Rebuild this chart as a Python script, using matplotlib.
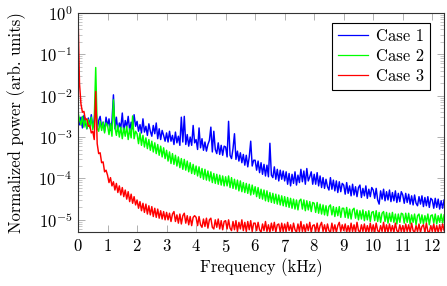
import numpy as np
import matplotlib
matplotlib.use("Agg")
import matplotlib.pyplot as plt
from matplotlib.ticker import LogLocator, NullFormatter, FixedLocator

plt.rcParams['font.family'] = ['cmr10', 'DejaVu Serif']
plt.rcParams['mathtext.fontset'] = 'cm'
plt.rcParams['axes.formatter.use_mathtext'] = True

# frequency grid (kHz), 0.05 kHz spacing
freq = np.linspace(0.0, 12.4, 249)

# log10 of normalized power
case1_log = [
    -2.45, -2.70, -2.52, -2.78, -2.48, -2.66, -2.80, -2.54, -2.72, -2.46, -2.76, -2.58, -2.22, -2.82, -2.60, -2.50, -2.78, -2.64, -2.86, -2.52,
    -2.74, -2.56, -2.84, -2.62, -1.98, -2.80, -2.52, -2.86, -2.66, -2.78, -2.42, -2.88, -2.60, -2.76, -2.50, -2.84, -2.64, -2.80, -2.46, -2.74,
    -2.62, -2.86, -2.70, -2.90, -2.56, -2.88, -2.74, -2.96, -2.68, -2.86, -2.98, -2.72, -2.92, -2.66, -3.04, -2.80, -3.06, -2.84, -2.96, -3.10,
    -2.90, -3.12, -2.86, -3.10, -2.96, -3.18, -2.88, -3.14, -2.98, -3.20, -2.52, -3.12, -2.50, -3.18, -2.94, -3.22, -3.00, -3.20, -2.72, -3.14,
    -3.06, -3.30, -2.78, -3.26, -3.04, -3.32, -3.12, -3.34, -3.18, -3.08, -2.76, -3.36, -2.86, -3.30, -3.40, -3.14, -3.42, -3.20, -3.44, -3.22,
    -3.24, -3.48, -2.62, -3.44, -3.52, -3.28, -2.92, -3.54, -3.34, -3.58, -3.38, -3.62, -3.42, -3.68, -3.44, -3.72, -3.48, -3.10, -3.70, -3.56,
    -3.56, -3.80, -3.58, -3.86, -3.62, -3.90, -3.66, -3.94, -3.68, -3.96, -3.15, -3.92, -3.98, -3.72, -4.02, -3.78, -4.06, -3.80, -4.02, -3.82,
    -4.06, -3.84, -4.14, -3.88, -4.18, -3.90, -4.12, -3.84, -4.16, -3.92, -4.10, -3.78, -4.08, -3.82, -4.14, -3.76, -4.06, -3.96, -3.84, -4.14,
    -3.90, -4.14, -3.86, -4.18, -3.94, -4.22, -3.98, -4.24, -4.02, -4.20, -4.28, -3.98, -4.26, -4.04, -4.30, -4.06, -4.34, -4.08, -4.32, -4.12,
    -4.16, -4.38, -4.10, -4.36, -4.18, -4.42, -4.14, -4.40, -4.20, -4.44, -4.22, -4.16, -4.46, -4.24, -4.42, -4.18, -4.48, -4.26, -4.44, -4.22,
    -4.28, -4.48, -4.24, -4.52, -4.62, -4.30, -4.50, -4.26, -4.54, -4.32, -4.52, -4.28, -4.56, -4.34, -4.54, -4.30, -4.58, -4.36, -4.56, -4.32,
    -4.40, -4.60, -4.36, -4.58, -4.38, -4.62, -4.42, -4.64, -4.40, -4.60, -4.66, -4.44, -4.62, -4.42, -4.68, -4.46, -4.66, -4.44, -4.70, -4.48,
    -4.52, -4.72, -4.48, -4.70, -4.50, -4.74, -4.54, -4.72, -4.52,
]

case2_log = [
    -2.40, -2.58, -2.70, -2.50, -2.76, -2.54, -2.80, -2.58, -2.78, -2.52, -2.82, -2.60, -1.32, -2.78, -2.86, -2.62, -2.84, -2.64, -2.90, -2.66,
    -2.72, -2.94, -2.68, -2.98, -2.10, -2.76, -2.96, -2.72, -3.00, -2.76, -3.04, -2.78, -2.98, -2.74, -3.06, -2.80, -3.02, -2.49, -3.04, -2.86,
    -2.92, -3.16, -2.90, -3.20, -2.96, -3.24, -3.02, -3.28, -3.06, -3.32, -3.10, -3.36, -3.14, -3.40, -3.18, -3.44, -3.22, -3.48, -3.26, -3.52,
    -3.32, -3.58, -3.36, -3.64, -3.40, -3.66, -3.44, -3.70, -3.48, -3.74, -3.52, -3.78, -3.54, -3.80, -3.58, -3.84, -3.62, -3.88, -3.66, -3.90,
    -3.70, -3.94, -3.72, -3.98, -3.76, -4.02, -3.78, -4.04, -3.82, -4.06, -3.84, -4.10, -3.88, -4.12, -3.90, -4.14, -3.92, -4.16, -3.94, -4.18,
    -3.96, -4.18, -3.94, -4.22, -3.98, -4.24, -4.02, -4.26, -4.04, -4.30, -4.06, -4.32, -4.10, -4.34, -4.12, -4.36, -4.14, -4.40, -4.16, -4.38,
    -4.20, -4.44, -4.22, -4.48, -4.26, -4.50, -4.28, -4.54, -4.30, -4.56, -4.34, -4.58, -4.36, -4.60, -4.38, -4.62, -4.40, -4.64, -4.42, -4.66,
    -4.44, -4.68, -4.46, -4.70, -4.48, -4.72, -4.50, -4.74, -4.52, -4.76, -4.54, -4.50, -4.74, -4.52, -4.78, -4.54, -4.76, -4.56, -4.80, -4.58,
    -4.60, -4.82, -4.58, -4.84, -4.62, -4.86, -4.64, -4.88, -4.66, -4.90, -4.68, -4.64, -4.88, -4.68, -4.92, -4.70, -4.90, -4.68, -4.94, -4.72,
    -4.72, -4.94, -4.70, -4.96, -4.74, -4.98, -4.76, -4.72, -4.96, -4.76, -5.00, -4.78, -4.98, -4.76, -5.02, -4.80, -5.00, -4.78, -5.04, -4.82,
    -4.80, -5.02, -4.78, -5.04, -4.82, -5.06, -4.84, -4.80, -5.04, -4.82, -5.08, -4.84, -5.04, -4.82, -5.06, -4.86, -5.10, -4.86, -5.06, -4.84,
    -4.86, -5.08, -4.84, -5.06, -4.84, -5.10, -4.88, -5.06, -4.86, -5.12, -4.90, -4.86, -5.08, -4.88, -5.10, -4.90, -5.06, -4.86, -5.12, -4.90,
    -4.88, -5.08, -4.86, -5.10, -4.90, -5.06, -4.86, -5.08, -4.88,
]

case3_log = [
    0.00, -1.70, -2.20, -2.40, -2.38, -2.58, -2.56, -2.74, -2.72, -2.90, -2.86, -3.06, -1.90, -3.16, -3.40, -3.38, -3.62, -3.60, -3.84, -3.80,
    -3.92, -4.10, -3.98, -4.18, -4.08, -4.28, -4.12, -4.34, -4.18, -4.40, -4.22, -4.44, -4.28, -4.50, -4.32, -4.56, -4.38, -4.60, -4.44, -4.64,
    -4.52, -4.72, -4.56, -4.78, -4.60, -4.82, -4.62, -4.86, -4.66, -4.88, -4.68, -4.92, -4.72, -4.94, -4.74, -4.96, -4.78, -4.98, -4.80, -5.00,
    -4.82, -5.00, -4.84, -5.04, -4.86, -4.80, -5.04, -4.88, -5.08, -4.86, -5.10, -4.90, -4.84, -5.08, -4.90, -5.12, -4.92, -5.14, -4.94, -4.90,
    -4.94, -5.14, -4.92, -5.12, -5.18, -4.98, -5.16, -4.96, -5.20, -5.00, -4.96, -5.18, -5.22, -5.00, -5.18, -4.98, -5.22, -5.02, -5.24, -5.04,
    -5.02, -5.22, -5.00, -5.20, -5.26, -5.04, -5.24, -5.02, -5.28, -5.06, -5.22, -5.00, -5.26, -5.06, -5.28, -5.04, -5.24, -5.02, -5.28, -5.08,
    -5.08, -5.26, -5.06, -5.24, -5.30, -5.10, -5.26, -5.04, -5.28, -5.12, -5.30, -5.08, -5.26, -5.06, -5.30, -5.12, -5.10, -5.30, -5.08, -5.28,
    -5.10, -5.28, -5.06, -5.26, -5.12, -5.30, -5.08, -5.24, -5.30, -5.10, -5.28, -5.04, -5.28, -5.12, -5.30, -5.10, -5.26, -5.06, -5.30, -5.14,
    -5.12, -5.28, -5.08, -5.30, -5.14, -5.06, -5.28, -5.12, -5.30, -5.10, -5.26, -5.30, -5.08, -5.28, -5.12, -5.30, -5.14, -5.06, -5.28, -5.12,
    -5.26, -5.10, -5.30, -5.14, -5.30, -5.08, -5.28, -5.12, -5.30, -5.06, -5.26, -5.30, -5.12, -5.28, -5.10, -5.30, -5.14, -5.30, -5.08, -5.28,
    -5.12, -5.30, -5.08, -5.26, -5.30, -5.14, -5.28, -5.06, -5.30, -5.12, -5.30, -5.10, -5.28, -5.14, -5.30, -5.08, -5.26, -5.30, -5.12, -5.28,
    -5.14, -5.30, -5.10, -5.28, -5.12, -5.30, -5.08, -5.26, -5.30, -5.14, -5.28, -5.10, -5.30, -5.16, -5.12, -5.30, -5.08, -5.28, -5.30, -5.14,
    -5.28, -5.10, -5.30, -5.14, -5.30, -5.12, -5.28, -5.10, -5.26,
]

labels = ["Case 1", "Case 2", "Case 3"]
colors = ["#0000ff", "#00ff00", "#ff0000"]
x_ticks = list(range(0, 13))

fig = plt.figure(figsize=(4.47, 2.86), dpi=100)
ax = fig.add_axes([0.1745, 0.189, 0.819, 0.766])

for vals, lab, col in zip([case1_log, case2_log, case3_log], labels, colors):
    ax.plot(freq, 10.0 ** np.array(vals), color=col, lw=1.05, label=lab)

ax.set_yscale('log')
ax.set_xlim(0, 12.4)
ax.set_ylim(5.1e-6, 1.0)
ax.xaxis.set_major_locator(FixedLocator(x_ticks))
ax.yaxis.set_major_locator(LogLocator(base=10, numticks=10))
ax.yaxis.set_minor_locator(LogLocator(base=10, subs=np.arange(2, 10), numticks=20))
ax.yaxis.set_minor_formatter(NullFormatter())

ax.tick_params(axis='both', which='both', direction='in', top=True, right=True,
               color='#b0b0b0', labelsize=12, pad=4)
ax.tick_params(axis='both', which='major', length=5, width=0.7)
ax.tick_params(axis='y', which='minor', length=3, width=0.5)
for s in ax.spines.values():
    s.set_linewidth(0.8)
    s.set_color('#333333')

ax.set_xlabel('Frequency (kHz)', fontsize=12, labelpad=3)
ax.set_ylabel('Normalized power (arb. units)', fontsize=12, labelpad=9)

leg = ax.legend(loc='upper right', fontsize=12, frameon=True, fancybox=False,
                edgecolor='black', framealpha=1, handlelength=1.8,
                borderpad=0.35, labelspacing=0.28, handletextpad=0.5,
                borderaxespad=0.0, bbox_to_anchor=(0.962, 0.955))
leg.get_frame().set_linewidth(0.8)
for line in leg.get_lines():
    line.set_linewidth(0.9)

fig.savefig('out.png', dpi=100)
